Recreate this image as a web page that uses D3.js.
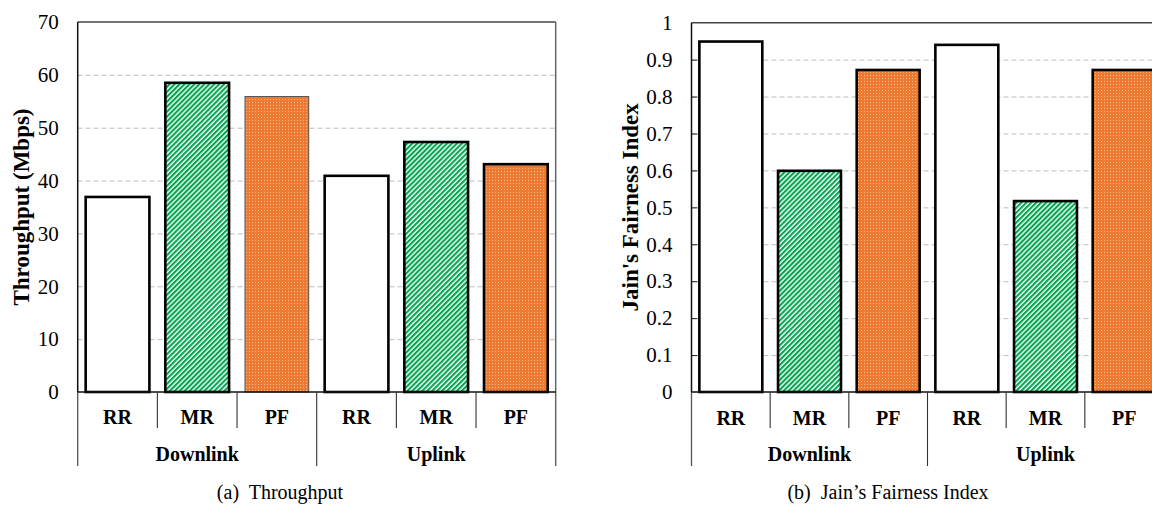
<!DOCTYPE html>
<html>
<head>
<meta charset="utf-8">
<script src="https://cdn.jsdelivr.net/npm/d3@7"></script>
<style>
  body { margin: 0; background: #fff; }
  svg { display: block; font-family: "Liberation Serif", "Times New Roman", serif; }
</style>
</head>
<body>
<svg id="fig" width="1152" height="509"></svg>
<script>
// values
var groups = ["Downlink", "Uplink"];
var schemes = ["RR", "MR", "PF"];
var throughput = [36.9, 58.5, 55.9, 40.9, 47.3, 43.1];
var fairness = [0.949, 0.599, 0.872, 0.940, 0.517, 0.872];
var throughputTicks = [0, 10, 20, 30, 40, 50, 60, 70];
var fairnessTicks = [0, 0.1, 0.2, 0.3, 0.4, 0.5, 0.6, 0.7, 0.8, 0.9, 1];

var svg = d3.select("#fig");
var defs = svg.append("defs");

// green diagonal hatch
var hatch = defs.append("pattern")
	.attr("id", "hatch")
	.attr("patternUnits", "userSpaceOnUse")
	.attr("width", 3.5)
	.attr("height", 10)
	.attr("patternTransform", "rotate(45)");
hatch.append("rect").attr("width", 3.5).attr("height", 10).attr("fill", "#fff");
hatch.append("rect").attr("width", 2.1).attr("height", 10).attr("fill", "#00a64f");

// orange with fine light dots
var dots = defs.append("pattern")
	.attr("id", "dots")
	.attr("patternUnits", "userSpaceOnUse")
	.attr("width", 3)
	.attr("height", 3);
dots.append("rect").attr("width", 3).attr("height", 3).attr("fill", "#ed7a30");
dots.append("rect").attr("width", 1).attr("height", 1).attr("fill", "#f6bb90");

var fills = {"RR": "#fff", "MR": "url(#hatch)", "PF": "url(#dots)"};

var cats = [];
groups.forEach(function (g) {
	schemes.forEach(function (s) {
		cats.push({group: g, scheme: s, key: g + "-" + s});
	});
});

function panel(o) {
	var g = svg.append("g");
	var x = d3.scaleBand()
		.domain(cats.map(function (c) { return c.key; }))
		.range([o.left, o.right])
		.paddingInner(0.2)
		.paddingOuter(0.1);
	var y = d3.scaleLinear().domain(o.domain).range([o.base, o.top]);
	var step = x.step();
	var w = o.right - o.left;

	// dashed gridlines
	var grid = g.append("g")
		.attr("transform", "translate(" + o.left + ",0)")
		.call(d3.axisLeft(y).tickValues(o.ticks.slice(1, -1)).tickSize(-w).tickFormat(""));
	grid.select(".domain").remove();
	grid.selectAll("line")
		.attr("stroke", "#bdbdbd")
		.attr("stroke-dasharray", "5,3");

	if (o.innerTicks) {
		var it = g.append("g")
			.attr("transform", "translate(" + o.left + ",0)")
			.call(d3.axisLeft(y).tickValues(o.ticks.slice(1, -1)).tickSize(-6).tickFormat(""));
		it.select(".domain").remove();
		it.selectAll("line").attr("stroke", "#222").attr("stroke-width", 1);
	}

	// tick labels
	var lab = g.append("g")
		.attr("transform", "translate(" + o.left + ",0)")
		.call(d3.axisLeft(y).tickValues(o.ticks).tickSize(0).tickPadding(19).tickFormat(d3.format("")));
	lab.select(".domain").remove();
	lab.selectAll("text")
		.attr("font-family", "Liberation Serif")
		.attr("font-size", 21)
		.attr("fill", "#000");

	// bars
	g.selectAll("rect.bar")
		.data(cats)
		.enter().append("rect")
		.attr("class", "bar")
		.attr("x", function (c) { return x(c.key); })
		.attr("width", x.bandwidth())
		.attr("y", function (c, i) { return y(o.values[i]); })
		.attr("height", function (c, i) { return o.base - y(o.values[i]); })
		.attr("fill", function (c) { return fills[c.scheme]; })
		.attr("stroke", function (c, i) { return i === o.thin ? "#555" : "#000"; })
		.attr("stroke-width", function (c, i) { return i === o.thin ? 1 : 2.6; });

	// frame
	g.append("line")
		.attr("x1", o.left).attr("x2", Math.min(o.right, 1152))
		.attr("y1", o.top).attr("y2", o.top)
		.attr("stroke", "#444").attr("stroke-width", 1.5);
	if (o.right < 1152) {
		g.append("line")
			.attr("x1", o.right).attr("x2", o.right)
			.attr("y1", o.top).attr("y2", o.groupBottom)
			.attr("stroke", "#666").attr("stroke-width", 1.5);
	}
	g.append("line")
		.attr("x1", o.left).attr("x2", o.left)
		.attr("y1", o.top).attr("y2", o.base)
		.attr("stroke", "#111").attr("stroke-width", 1.5);
	g.append("line")
		.attr("x1", o.left).attr("x2", o.left)
		.attr("y1", o.base).attr("y2", o.groupBottom)
		.attr("stroke", "#555").attr("stroke-width", 1.3);
	g.append("line")
		.attr("x1", o.left).attr("x2", o.right)
		.attr("y1", o.base).attr("y2", o.base)
		.attr("stroke", "#111").attr("stroke-width", 1.6);

	// category dividers
	d3.range(1, cats.length).forEach(function (i) {
		var xx = o.left + i * step;
		g.append("line")
			.attr("x1", xx).attr("x2", xx)
			.attr("y1", o.base).attr("y2", i % schemes.length ? o.catBottom : o.groupBottom)
			.attr("stroke", "#333").attr("stroke-width", 1.1);
	});

	g.selectAll("text.cat")
		.data(cats)
		.enter().append("text")
		.attr("class", "cat")
		.attr("x", function (c) { return x(c.key) + x.bandwidth() / 2; })
		.attr("y", o.catBaseline)
		.attr("text-anchor", "middle")
		.attr("font-size", 20)
		.attr("font-weight", "bold")
		.text(function (c) { return c.scheme; });

	g.selectAll("text.grp")
		.data(groups)
		.enter().append("text")
		.attr("class", "grp")
		.attr("x", function (d, i) { return o.left + (i + 0.5) * step * schemes.length; })
		.attr("y", o.groupBaseline)
		.attr("text-anchor", "middle")
		.attr("font-size", 20)
		.attr("font-weight", "bold")
		.text(function (d) { return d; });

	g.append("text")
		.attr("transform", "translate(" + o.titleX + "," + ((o.top + o.base) / 2) + ") rotate(-90)")
		.attr("text-anchor", "middle")
		.attr("font-size", 23)
		.attr("font-weight", "bold")
		.text(o.title);

	g.append("text")
		.attr("x", o.captionX)
		.attr("y", 499)
		.attr("text-anchor", "middle")
		.attr("font-size", 20)
		.attr("xml:space", "preserve")
		.text(o.caption);
}

panel({
	left: 77.7, right: 555.7, top: 22, base: 392,
	catBottom: 428, groupBottom: 466, catBaseline: 424, groupBaseline: 461,
	domain: [0, 70], ticks: throughputTicks, values: throughput, thin: 2,
	title: "Throughput (Mbps)", titleX: 29,
	caption: "(a)  Throughput", captionX: 280
});

panel({
	left: 691.5, right: 1163.5, top: 22.7, base: 392,
	catBottom: 428, groupBottom: 466, catBaseline: 425, groupBaseline: 461,
	domain: [0, 1], ticks: fairnessTicks, values: fairness, thin: -1, innerTicks: true,
	title: "Jain's Fairness Index", titleX: 638,
	caption: "(b)  Jain\u2019s Fairness Index", captionX: 888
});
</script>
</body>
</html>
